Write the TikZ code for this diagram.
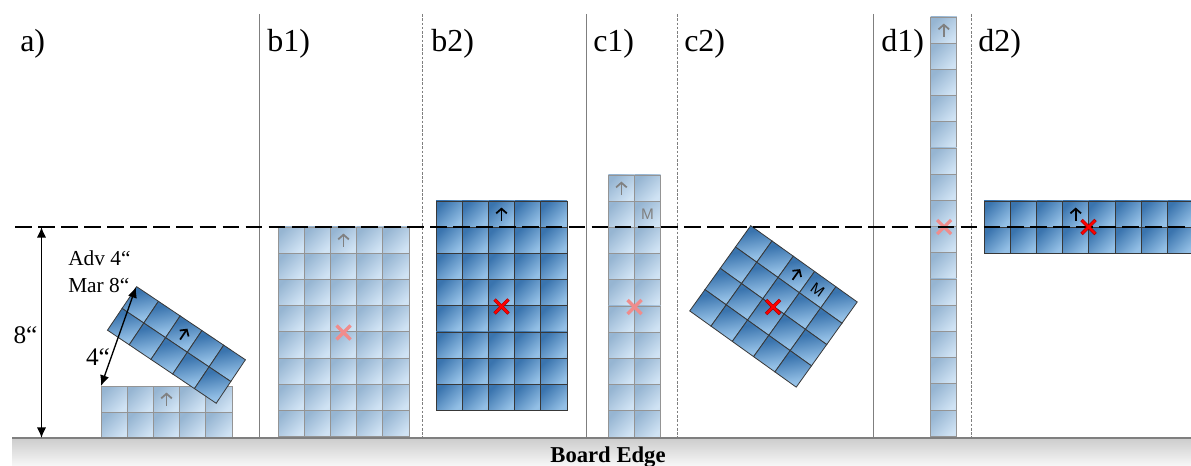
\documentclass[tikz,border=0pt]{standalone}
\usepackage{fontspec}
\setmainfont{Liberation Serif}
\setsansfont{Liberation Sans}
\usetikzlibrary{calc,arrows.meta}

\definecolor{darkA}{HTML}{3A74AE}
\definecolor{darkB}{HTML}{4A88C6}
\definecolor{darkC}{HTML}{94C0E6}
\definecolor{lightA}{HTML}{96B5D2}
\definecolor{lightB}{HTML}{A9C8E4}
\definecolor{lightC}{HTML}{D0E3F4}
\definecolor{railgray}{HTML}{7F7F7F}
\definecolor{palered}{HTML}{F08C8C}

\tikzset{
  panel/.style n args={3}{transform canvas={shift={(#1*0.75pt,-#2*0.75pt)},rotate=#3},x=19.65pt,y=-19.65pt},
  darkcell/.style={draw=black!78,line width=0.6pt,top color=darkA,middle color=darkB,bottom color=darkC,shading angle=45},
  lightcell/.style={draw=black!42,line width=0.7pt,top color=lightA,middle color=lightB,bottom color=lightC,shading angle=45},
  darkup/.style={black,line width=1.3pt,-{Straight Barb[length=3.5pt,width=8pt]}},
  lightup/.style={black!50,line width=1.3pt,-{Straight Barb[length=3.5pt,width=8pt]}},
  solidrule/.style={railgray,line width=0.7pt},
  dashrule/.style={railgray,line width=0.5pt,dash pattern=on 2pt off 1.2pt},
  cutline/.style={black,line width=1.5pt,dash pattern=on 12.5pt off 4.8pt},
  dimline/.style={black,line width=1pt,{Latex[length=8pt,width=7pt]}-{Latex[length=8pt,width=7pt]}},
  panellabel/.style={anchor=base west,inner sep=0pt,font=\fontsize{24}{24}\selectfont},
  dimlabel/.style={inner sep=0pt,font=\fontsize{19}{19}\selectfont},
  noteslabel/.style={anchor=base west,inner sep=0pt,font=\fontsize{16}{16}\selectfont}
}

\newcommand{\cellgrid}[3]{
  \foreach \i in {1,...,#1}
    \foreach \j in {1,...,#2}
      \path[#3] ({\i-1},{\j-1}) rectangle ++(1,1);
}
\newcommand{\redcross}[1]{
  \draw[red!65!black,line width=2.5pt] ($ #1 + (-7,-7) $) -- ($ #1 + (7,7) $) ($ #1 + (-7,7) $) -- ($ #1 + (7,-7) $);
  \draw[red,line width=1.6pt] ($ #1 + (-6.6,-6.6) $) -- ($ #1 + (6.6,6.6) $) ($ #1 + (-6.6,6.6) $) -- ($ #1 + (6.6,-6.6) $);
}
\newcommand{\palecross}[1]{
  \draw[palered,line width=2.4pt] ($ #1 + (-7,-7) $) -- ($ #1 + (7,7) $) ($ #1 + (-7,7) $) -- ($ #1 + (7,-7) $);
}

\begin{document}
\begin{tikzpicture}[x=0.75pt,y=-0.75pt]
  \useasboundingbox (0,0) rectangle (1191,466);

  \shade[top color=black!20,bottom color=black!3] (12,438) rectangle (1191,466);

  \foreach \vx in {259,586,873}
    \draw[solidrule] (\vx,14) -- (\vx,438);
  \foreach \vx in {422,677,971}
    \draw[dashrule] (\vx,14) -- (\vx,438);

  \foreach \lx/\ltext in {20/a),267/b1),431/b2),593/c1),684/c2),881/d1),978/d2)}
    \node[panellabel] (lab\lx) at (\lx,51.5) {\ltext};

  \begin{scope}[panel={101}{386}{0}]
    \cellgrid{5}{2}{lightcell}
    \draw[lightup] (2.5,0.75) -- (2.5,0.25);
  \end{scope}
  \begin{scope}[panel={136.7}{286.7}{-33.9}]
    \cellgrid{5}{2}{darkcell}
    \draw[darkup] (2.5,0.75) -- (2.5,0.25);
  \end{scope}

  \begin{scope}[panel={278}{227}{0}]
    \cellgrid{5}{8}{lightcell}
    \draw[lightup] (2.5,0.75) -- (2.5,0.25);
  \end{scope}
  \begin{scope}[panel={436}{201}{0}]
    \cellgrid{5}{8}{darkcell}
    \draw[darkup] (2.5,0.75) -- (2.5,0.25);
  \end{scope}

  \begin{scope}[panel={608.3}{175}{0}]
    \cellgrid{2}{10}{lightcell}
    \draw[lightup] (0.5,0.75) -- (0.5,0.25);
    \node[black!50,font=\sffamily\fontsize{11.5}{11.5}\selectfont,inner sep=0pt] (markc1) at (1.5,1.5) {M};
  \end{scope}
  \begin{scope}[panel={750.7}{225.7}{-35.6}]
    \cellgrid{5}{4}{darkcell}
    \draw[darkup] (2.5,0.75) -- (2.5,0.25);
    \node[black,font=\sffamily\fontsize{11.5}{11.5}\selectfont,inner sep=0pt] (markc2) at (3.5,0.5) {M};
  \end{scope}

  \begin{scope}[panel={930.7}{17}{0}]
    \cellgrid{1}{16}{lightcell}
    \draw[lightup] (0.5,0.75) -- (0.5,0.25);
  \end{scope}
  \begin{scope}[panel={984}{201}{0}]
    \cellgrid{8}{2}{darkcell}
    \draw[darkup] (3.5,0.75) -- (3.5,0.25);
  \end{scope}

  \draw[railgray,line width=0.9pt] (12,438) -- (1191,438);

  \palecross{(343.5,332.5)}
  \palecross{(634.5,307)}
  \palecross{(944,227)}

  \coordinate (edge8) at (41.5,438);
  \coordinate (top8) at (41.5,227);
  \coordinate (base4) at (101,386);
  \coordinate (tip4) at (136,287);

  \draw[cutline] (15,227) -- (1191,227);

  \redcross{(501.5,306.5)}
  \redcross{(773,307)}
  \redcross{(1088.5,227)}

  \draw[dimline] (top8) -- (edge8);
  \draw[dimline] (tip4) -- (base4);

  \node[dimlabel] (lab8) at (25.5,335) {8“};
  \node[dimlabel] (lab4) at (98,357) {4“};
  \node[noteslabel] (labadv) at (68,266) {Adv 4“};
  \node[noteslabel] (labmar) at (68,293) {Mar 8“};

  \node[anchor=base,inner sep=0pt,font=\bfseries\fontsize{17}{17}\selectfont] (labedge) at (608,462) {Board Edge};
\end{tikzpicture}
\end{document}
